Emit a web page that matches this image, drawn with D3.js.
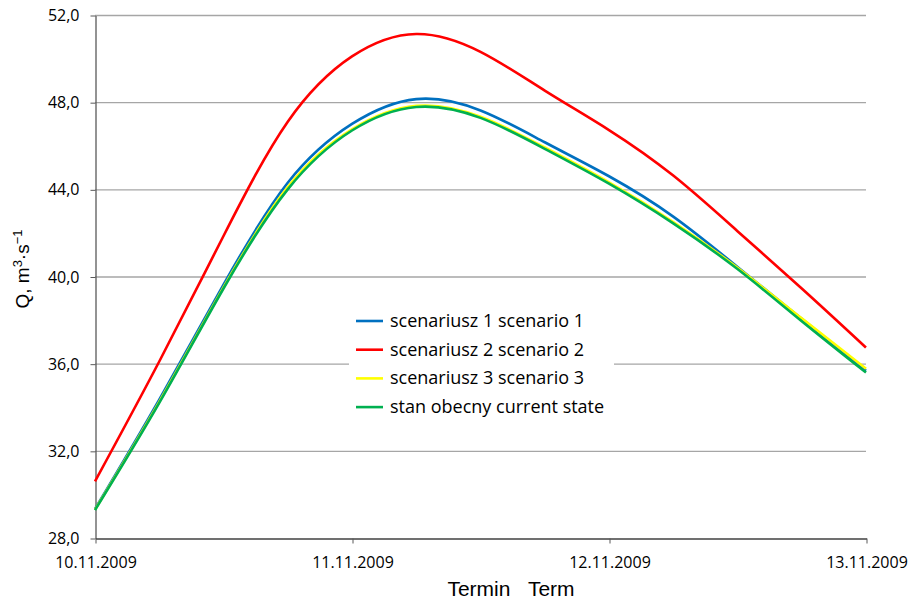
<!DOCTYPE html>
<html lang="en">

<head>
  <meta charset="UTF-8">
  <title>Q scenarios</title>
  <style>
    body { margin: 0; background: #fff; }
  </style>
</head>

<body>
  <svg id="svg" width="911" height="602"></svg>

  <script src="https://d3js.org/d3.v7.min.js"></script>
  <script>
    // hours since 10.11.2009 00:00
    const hours = [0, 6, 12, 18, 24, 30, 36, 42, 48, 54, 60, 66, 72]
    const scen1 = [29.33, 34.35, 39.63, 44.3, 47.0, 48.14, 47.62, 46.16, 44.6, 42.75, 40.44, 38.06, 35.68]
    const scen2 = [30.6, 36.1, 41.86, 47.1, 50.1, 51.13, 50.31, 48.53, 46.72, 44.63, 42.08, 39.45, 36.74]
    const scen3 = [29.3, 34.25, 39.5, 44.1, 46.75, 47.83, 47.33, 45.92, 44.32, 42.5, 40.4, 38.08, 35.77]
    const current = [29.28, 34.2, 39.45, 44.0, 46.7, 47.78, 47.28, 45.86, 44.26, 42.44, 40.34, 37.95, 35.59]
    const yTicks = [28, 32, 36, 40, 44, 48, 52]
    const dayTicks = ['2009-11-10', '2009-11-11', '2009-11-12', '2009-11-13']

    const series = [
      { name: 'scenariusz 1 scenario 1', values: scen1, color: '#0070C0' },
      { name: 'scenariusz 2 scenario 2', values: scen2, color: '#FF0000' },
      { name: 'scenariusz 3 scenario 3', values: scen3, color: '#FFFF00' },
      { name: 'stan obecny current state', values: current, color: '#00B050' }
    ]

    const start = new Date(2009, 10, 10)
    const toDate = h => new Date(start.getTime() + h * 3600 * 1000)
    const days = dayTicks.map(s => { const p = s.split('-'); return new Date(+p[0], +p[1] - 1, +p[2]) })

    const plotLeft = 95, plotRight = 866, plotTop = 15, plotBottom = 538

    const xScale = d3.scaleTime()
      .domain([days[0], days[days.length - 1]])
      .range([plotLeft, plotRight])
    const yScale = d3.scaleLinear()
      .domain([28, 52])
      .range([plotBottom, plotTop])

    const svg = d3.select('#svg')
    const tickFont = "'Open Sans', sans-serif"

    // grid
    svg.append('g')
      .selectAll('line')
      .data(yTicks.filter(d => d > 28))
      .enter()
      .append('line')
      .attr('x1', plotLeft)
      .attr('x2', plotRight)
      .attr('y1', d => yScale(d) + 0.5)
      .attr('y2', d => yScale(d) + 0.5)
      .attr('stroke', '#a6a6a6')
      .attr('stroke-width', 1.3)

    // y axis
    const yAxis = svg.append('g')
      .attr('transform', `translate(${plotLeft + 0.5},0.5)`)
      .call(d3.axisLeft(yScale).tickValues(yTicks).tickSize(5).tickSizeOuter(0)
        .tickFormat(d => d3.format('.1f')(d).replace('.', ',')))
    yAxis.select('.domain').attr('stroke', '#595959').attr('stroke-width', 1.3)
    yAxis.selectAll('.tick line').attr('stroke', '#595959')
    yAxis.selectAll('.tick text')
      .attr('x', -16)
      .style('font-family', tickFont)
      .style('font-size', '16px')
      .attr('fill', '#000')

    // x axis
    const xAxis = svg.append('g')
      .attr('transform', `translate(0.5,${plotBottom + 0.5})`)
      .call(d3.axisBottom(xScale).tickValues(days).tickSize(5).tickSizeOuter(0)
        .tickFormat(d3.timeFormat('%d.%m.%Y')))
    xAxis.select('.domain').attr('stroke', '#404040').attr('stroke-width', 1.3)
    xAxis.selectAll('.tick line').attr('stroke', '#595959')
    xAxis.selectAll('.tick text')
      .attr('y', 18)
      .style('font-family', tickFont)
      .style('font-size', '16px')
      .attr('fill', '#000')

    // lines
    const line = d3.line()
      .x((d, i) => xScale(toDate(hours[i])))
      .y(d => yScale(d))
      .curve(d3.curveNatural)

    svg.append('g')
      .selectAll('path')
      .data(series)
      .enter()
      .append('path')
      .attr('d', d => line(d.values))
      .attr('fill', 'none')
      .attr('stroke', d => d.color)
      .attr('stroke-width', 2.6)

    // legend
    const legend = svg.append('g')
    legend.append('rect')
      .attr('x', 349)
      .attr('y', 305)
      .attr('width', 265)
      .attr('height', 120)
      .attr('fill', '#fff')
    const items = legend.selectAll('g.item')
      .data(series)
      .enter()
      .append('g')
      .attr('class', 'item')
      .attr('transform', (d, i) => `translate(356,${321 + i * 28.7})`)
    items.append('line')
      .attr('x1', 0)
      .attr('x2', 27)
      .attr('stroke', d => d.color)
      .attr('stroke-width', 2.6)
    items.append('text')
      .text(d => d.name)
      .attr('x', 34)
      .attr('y', 6)
      .style('font-family', tickFont)
      .style('font-size', '18px')

    // axis titles
    svg.append('text')
      .text('Termin\u00a0\u00a0\u00a0Term')
      .attr('x', 511)
      .attr('y', 596)
      .attr('text-anchor', 'middle')
      .style('font-family', "'Liberation Sans', Arial, sans-serif")
      .style('font-size', '21px')

    const yTitle = svg.append('text')
      .attr('transform', 'translate(29,269) rotate(-90)')
      .attr('text-anchor', 'middle')
      .style('font-family', "'Liberation Sans', Arial, sans-serif")
      .style('font-size', '19px')
    yTitle.append('tspan').text('Q, m')
    yTitle.append('tspan').text('3').attr('dy', -7).style('font-size', '13px')
    yTitle.append('tspan').text('\u00b7s').attr('dy', 7)
    yTitle.append('tspan').text('\u22121').attr('dy', -7).style('font-size', '13px')
  </script>
</body>

</html>
